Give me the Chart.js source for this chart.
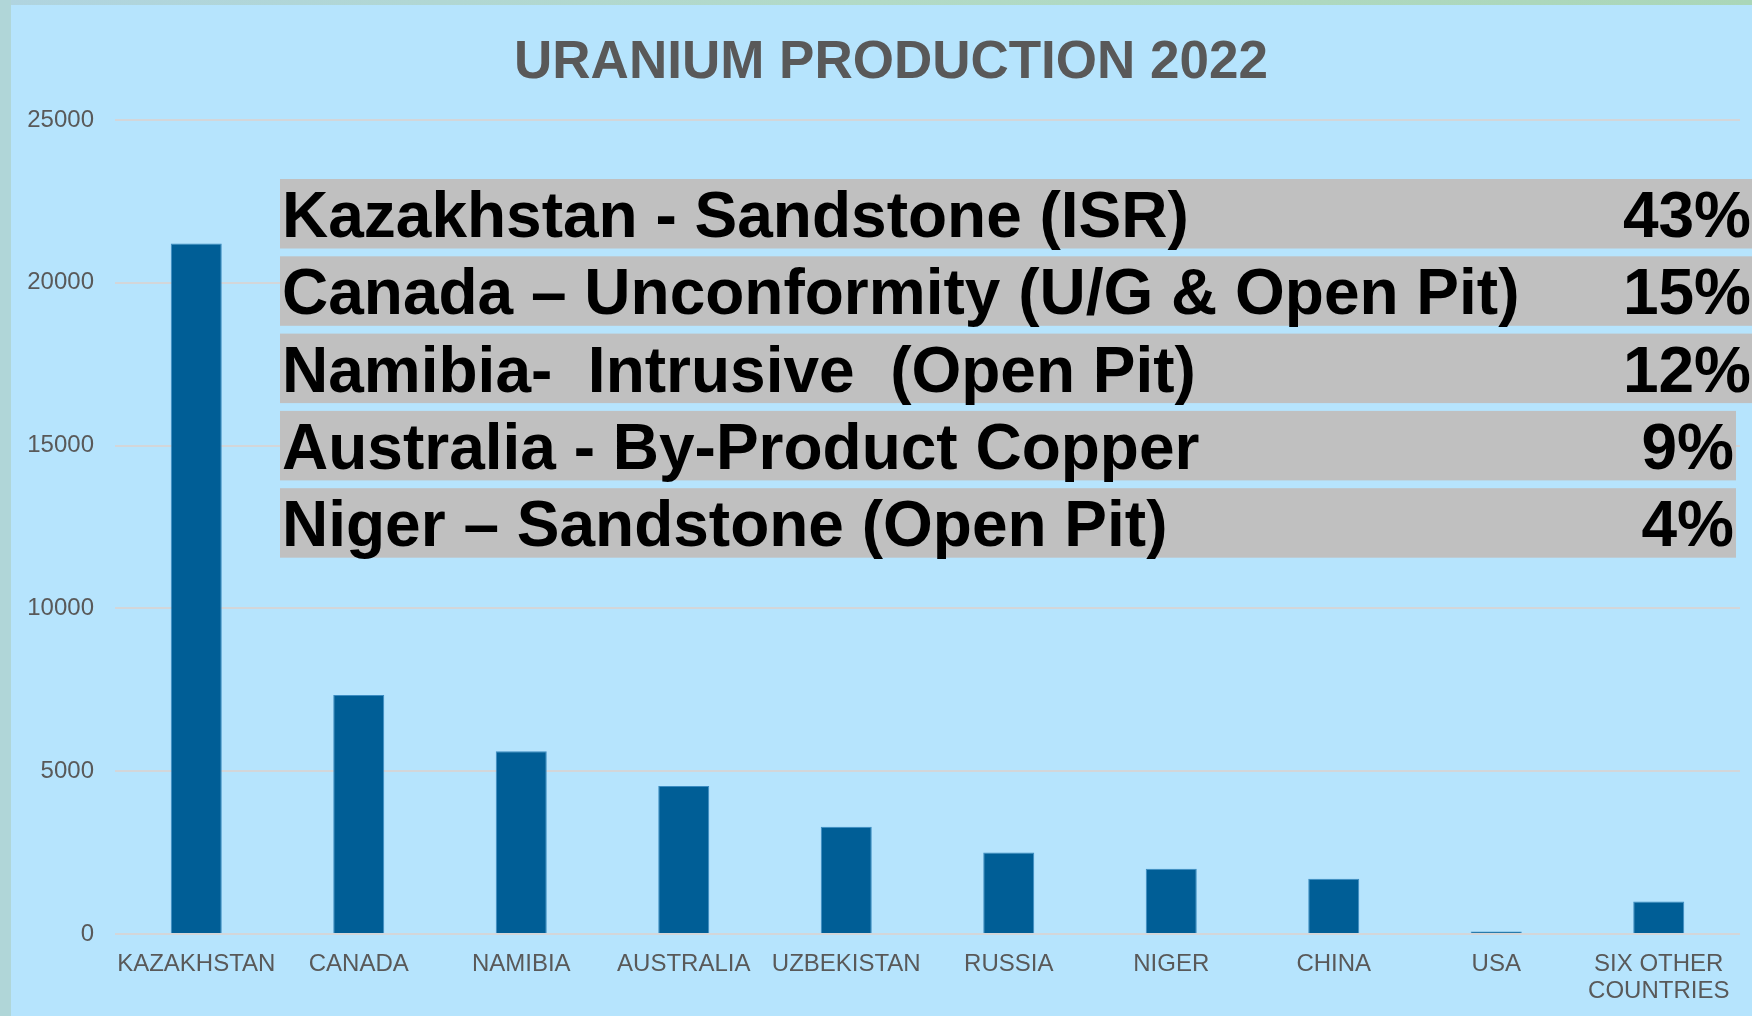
<!DOCTYPE html>
<html>
<head>
<meta charset="utf-8">
<title>Uranium production 2022</title>
<script src="https://cdn.jsdelivr.net/npm/chart.js@4/dist/chart.umd.min.js"></script>
<style>
  html, body { margin: 0; padding: 0; background: #b6e4fd; overflow: hidden; }
  #wrap { width: 1752px; height: 1016px; position: relative; }
</style>
</head>
<body>
<div id="wrap"><canvas id="myChart"></canvas></div>
<script>
// data
const countries = ["KAZAKHSTAN", "CANADA", "NAMIBIA", "AUSTRALIA", "UZBEKISTAN",
  "RUSSIA", "NIGER", "CHINA", "USA", ["SIX OTHER", "COUNTRIES"]];
const tonnes = [21206, 7340, 5614, 4549, 3292, 2503, 2003, 1696, 75, 1000];
const yMax = 25000;
const yStep = 5000;
const chartTitle = "URANIUM PRODUCTION 2022";

// the text boxes over the chart
const deposits = [
  "Kazakhstan - Sandstone (ISR)",
  "Canada \u2013 Unconformity (U/G & Open Pit)",
  "Namibia-  Intrusive  (Open Pit)",
  "Australia - By-Product Copper",
  "Niger \u2013 Sandstone (Open Pit)"
];
const shares = ["43%", "15%", "12%", "9%", "4%"];

const FONT = "'Liberation Sans', Arial, sans-serif";
const GREY = "#595959";
const barCanvas = document.getElementById("myChart");

// frame + light blue panel behind the chart
const panelBg = {
  id: "panelBg",
  beforeDraw(chart) {
    const ctx = chart.ctx;
    const w = chart.width, h = chart.height;
    ctx.save();
    const g = ctx.createLinearGradient(0, 0, w, 0);
    g.addColorStop(0, "#b0d4e0");
    g.addColorStop(0.5, "#b2dac6");
    g.addColorStop(1, "#aad6b8");
    ctx.fillStyle = g;
    ctx.fillRect(0, 0, w, h);
    ctx.fillStyle = "#b0d6d8";
    ctx.fillRect(0, 0, 11, h);
    ctx.fillStyle = "#b6e4fd";
    ctx.fillRect(11, 5, w - 11, h - 5);
    // title sits a bit right of the canvas centre in the original
    ctx.fillStyle = GREY;
    ctx.font = "bold 53px " + FONT;
    ctx.textAlign = "center";
    ctx.textBaseline = "middle";
    ctx.fillText(chartTitle, 891, 63);
    ctx.restore();
  }
};

// grey boxes with deposit type and share
const notes = {
  id: "notes",
  afterDraw(chart) {
    const ctx = chart.ctx;
    ctx.save();
    for (let i = 0; i < deposits.length; i++) {
      const top = 179 + i * 77.3;
      const wide = i < 3;
      const right = wide ? chart.width : 1736;
      ctx.fillStyle = "#c0c0c0";
      ctx.fillRect(280, top, right - 280, 69.5);
      ctx.fillStyle = "#000000";
      ctx.font = "bold 64px " + FONT;
      ctx.textBaseline = "alphabetic";
      ctx.textAlign = "left";
      ctx.fillText(deposits[i], 282, top + 58);
      ctx.textAlign = "right";
      ctx.fillText(shares[i], wide ? 1751 : 1734, top + 58);
    }
    ctx.restore();
  }
};

const barChart = new Chart(barCanvas, {
  type: "bar",
  data: {
    labels: countries,
    datasets: [{
      label: "Production (tU)",
      data: tonnes,
      backgroundColor: "#005e96",
      borderColor: "#3b8cc2",
      borderWidth: 1,
      categoryPercentage: 1,
      barPercentage: 0.314
    }]
  },
  options: {
    responsive: true,
    maintainAspectRatio: false,
    animation: false,
    layout: {
      padding: { top: 120, left: 11, right: 12, bottom: 0 }
    },
    scales: {
      y: {
        min: 0,
        max: yMax,
        afterFit: (scale) => { scale.width = 104; },
        ticks: {
          stepSize: yStep,
          color: GREY,
          padding: 21,
          font: { family: FONT, size: 24 },
          callback: (v) => String(v)
        },
        grid: {
          color: "#d3d6d9",
          lineWidth: 2,
          drawTicks: false
        },
        border: { display: false }
      },
      x: {
        afterFit: (scale) => { scale.height = 82; },
        ticks: {
          color: GREY,
          padding: 17,
          maxRotation: 0,
          autoSkip: false,
          font: { family: FONT, size: 24, lineHeight: 1.125 }
        },
        grid: { display: false, drawTicks: false },
        border: { display: false }
      }
    },
    plugins: {
      legend: { display: false },
      tooltip: { enabled: false },
      title: { display: false }
    }
  },
  plugins: [panelBg, notes]
});
</script>
</body>
</html>
